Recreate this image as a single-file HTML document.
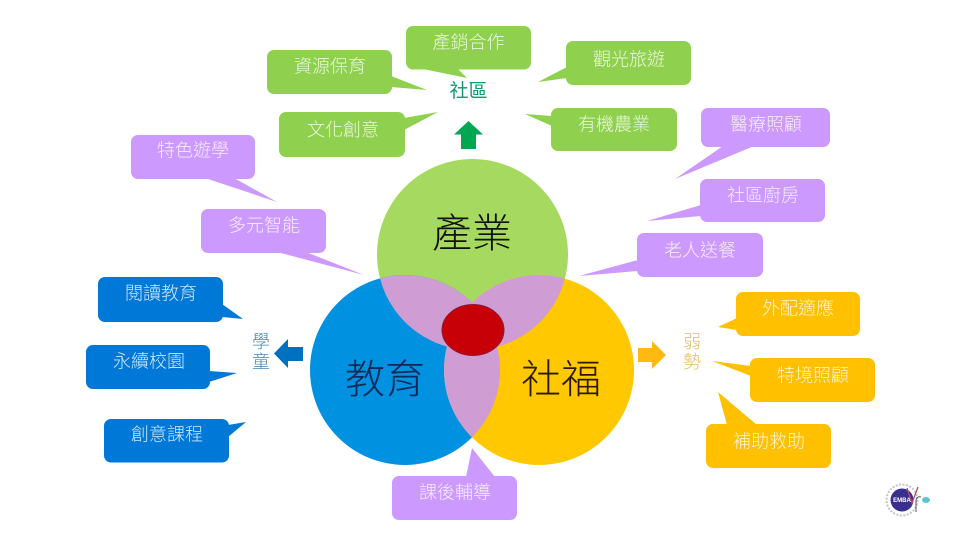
<!DOCTYPE html>
<html><head><meta charset="utf-8"><style>
html,body{margin:0;padding:0;background:#fff;width:960px;height:540px;overflow:hidden}
svg{display:block}
text{font-family:"Liberation Sans","Noto Sans CJK TC","Noto Sans CJK JP",sans-serif;font-weight:300;text-anchor:middle}
.t{font-size:18px;fill:#fff;fill-opacity:.82}
.g{fill:#8FD14F}.p{fill:#CC99FF}.b{fill:#0078D7}.o{fill:#FFC000}
.big{font-size:40px;fill:#111}
</style></head><body>
<svg width="960" height="540" viewBox="0 0 960 540" xmlns="http://www.w3.org/2000/svg">
<defs>
<clipPath id="cg"><circle cx="472.5" cy="254.5" r="95.5"/></clipPath>
<clipPath id="cb"><circle cx="405" cy="370" r="95"/></clipPath>
</defs>
<circle cx="472.5" cy="254.5" r="95.5" fill="#A6D95F"/>
<circle cx="405" cy="370" r="95" fill="#0091E1"/>
<circle cx="539" cy="370" r="95" fill="#FFC800"/>
<g fill="#CF9DD3">
<circle cx="405" cy="370" r="95" clip-path="url(#cg)"/>
<circle cx="539" cy="370" r="95" clip-path="url(#cg)"/>
<circle cx="539" cy="370" r="95" clip-path="url(#cb)"/>
</g>
<ellipse cx="473" cy="330" rx="31" ry="25.5" fill="#C60006" stroke="#8E1A3A" stroke-width="1"/>
<text class="big" x="472" y="247">產業</text>
<text class="big" x="385" y="393" style="fill:#0C2A55">教育</text>
<text class="big" x="561" y="393" style="fill:#2A1A05">社福</text>

<g class="g">
<rect x="406" y="26" width="125" height="43.5" rx="7"/><path d="M423 69L467 78L458 69Z"/>
<rect x="267" y="50" width="125" height="44" rx="7"/><path d="M391 76L427 90L391 87Z"/>
<rect x="566" y="41" width="125" height="44" rx="7"/><path d="M567 67L538 82L567 78Z"/>
<rect x="279" y="112" width="126" height="45" rx="7"/><path d="M404 118L438 112L404 130Z"/>
<rect x="551" y="108" width="126" height="43" rx="7"/><path d="M552 116L525 114L552 126Z"/>
</g>
<g class="p">
<rect x="131" y="135" width="124" height="44" rx="7"/><path d="M205 178L277 202L234 178Z"/>
<rect x="201" y="209" width="125" height="44" rx="7"/><path d="M277 252L364 275L306 252Z"/>
<rect x="701" y="108" width="129" height="39" rx="7"/><path d="M723 146L675 179L754 146Z"/>
<rect x="700" y="179" width="125" height="43" rx="7"/><path d="M701 205L647 221L701 216Z"/>
<rect x="637" y="233" width="126" height="44" rx="7"/><path d="M638 260L579 276L638 271Z"/>
<rect x="392" y="476" width="125" height="44" rx="7"/><path d="M466 477L472 448L495 477Z"/>
</g>
<g class="b">
<rect x="98" y="277" width="125" height="45" rx="7"/><path d="M222 304L243 319L222 317Z"/>
<rect x="86" y="345" width="124" height="44" rx="7"/><path d="M209 371L237 373L209 382Z"/>
<rect x="104" y="419" width="125" height="43.5" rx="7"/><path d="M228 425L246 422L228 437Z"/>
</g>
<g class="o">
<rect x="736" y="292" width="124" height="44" rx="7"/><path d="M737 318L718 327L737 330Z"/>
<rect x="750" y="358" width="125" height="44" rx="7"/><path d="M751 366L712 361L751 376Z"/>
<rect x="706" y="424" width="125" height="44" rx="7"/><path d="M727 425L718 392L757 425Z"/>
</g>

<path d="M468.500 121L483 134.500H476V149H461V134.500H454Z" fill="#00A651"/>
<path d="M274 353.500L288 339V347H303V361H288V368Z" fill="#0070C0"/>
<path d="M666 355L652 341V348H638V362H652V369Z" fill="#FFB911"/>

<text x="468.500" y="97" style="font-size:19px;fill:#0A9A6C;font-weight:400">社區</text>
<g style="font-size:18px;fill:#3E86B4">
<text x="261" y="348">學</text><text x="261" y="368">童</text></g>
<g style="font-size:18px;fill:#DDBE5C">
<text x="692" y="348">弱</text><text x="692" y="368">勢</text></g>

<g class="t">
<text x="468.500" y="48.500">產銷合作</text>
<text x="330" y="72.500">資源保育</text>
<text x="629" y="65.500">觀光旅遊</text>
<text x="343" y="136">文化創意</text>
<text x="614" y="130.500">有機農業</text>
<text x="193" y="156.500">特色遊學</text>
<text x="264" y="231.500">多元智能</text>
<text x="161" y="299.500">閱讀教育</text>
<text x="149" y="367.500">永續校園</text>
<text x="167" y="440.500">創意課程</text>
<text x="766" y="130.500">醫療照顧</text>
<text x="763" y="201.500">社區廚房</text>
<text x="700" y="256.500">老人送餐</text>
<text x="798" y="314.500">外配適應</text>
<text x="813" y="381.500">特境照顧</text>
<text x="769" y="447.500">補助救助</text>
<text x="455" y="498.500">課後輔導</text>
</g>

<g>
<circle cx="902" cy="500" r="15.500" fill="none" stroke="#9A9AB0" stroke-width="2" stroke-dasharray="2 1.500" opacity=".6"/>
<circle cx="902" cy="500" r="11.500" fill="#3A2F8C"/>
<text x="902" y="502" style="font-size:6px;fill:#fff;font-weight:700">EMBA</text>
<path d="M907 488L912 503L918 487" fill="none" stroke="#C0485A" stroke-width="1.300"/>
<path d="M916 512V500Q917 496 921 497" fill="none" stroke="#555" stroke-width="1"/>
<ellipse cx="926" cy="500" rx="4" ry="3" fill="#5FC4CE"/>
</g>
</svg>
</body></html>
